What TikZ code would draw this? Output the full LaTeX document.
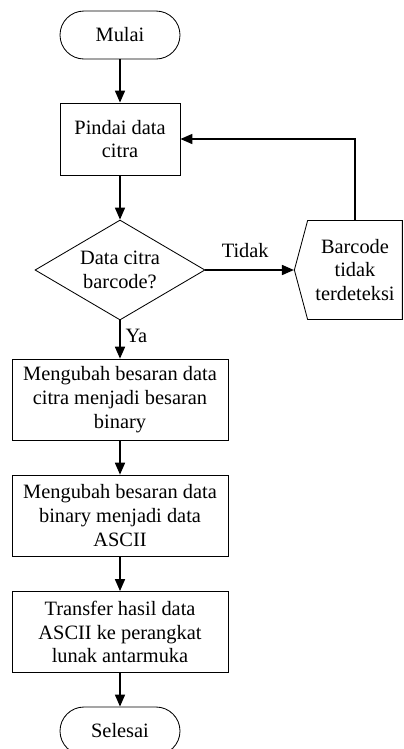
\documentclass[tikz,border=0pt]{standalone}
\usepackage{fontspec}
\setmainfont{Liberation Serif}
\usetikzlibrary{arrows.meta, positioning, calc, shapes.geometric, shapes.symbols}

\begin{document}
\begin{tikzpicture}[
    every node/.style={font=\fontsize{14.5}{16.8}\selectfont},
    terminal/.style={rectangle, draw=black, line width=0.6pt, rounded corners=0.6cm, minimum width=3cm, minimum height=1.2cm, align=center},
    process/.style={rectangle, draw=black, line width=0.6pt, minimum width=5.4cm, minimum height=2.025cm, align=center, inner sep=2pt},
    decision/.style={diamond, shape aspect=1.7, draw=black, line width=0.6pt, minimum width=4.25cm, minimum height=2.5cm, inner sep=0pt, align=center},
    display/.style={signal, signal to=west, signal from=nowhere, signal pointer angle=150, draw=black, line width=0.6pt, minimum width=2.7cm, minimum height=2.475cm, inner sep=0pt, align=center},
    label/.style={font=\fontsize{14.5}{16.8}\selectfont},
    arrow/.style={-{Triangle[length=0.3cm, width=0.25cm]}, line width=1.2pt}
]
\clip (0,0) rectangle (10.1,-18.725);

% Nodes
\node[terminal] (mulai) at (3, -0.875) {Mulai};
\node[process, minimum width=3cm, minimum height=1.8cm] (pindai) at (3, -3.475) {Pindai data\\citra};
\node[decision] (cek) at (3, -6.75) {Data citra\\barcode?};
\node[display] (gagal) at (8.875, -6.75) {Barcode\\tidak\\terdeteksi};
\node[process] (biner) at (3, -9.99) {Mengubah besaran data\\citra menjadi besaran\\binary};
\node[process] (ascii) at (3, -12.89) {Mengubah besaran data\\binary menjadi data\\ASCII};
\node[process] (kirim) at (3, -15.8) {Transfer hasil data\\ASCII ke perangkat\\lunak antarmuka};
\node[terminal] (selesai) at (3, -18.275) {Selesai};

% Paths
\draw[arrow] (mulai) -- (pindai);
\draw[arrow] (pindai) -- (cek);
\draw[arrow] (cek.east) -- node[label, above=5pt, pos=0.45] (tidak) {Tidak} (gagal.west);
\draw[arrow] (gagal.north) |- (pindai.east);
\draw[arrow] (cek.south) -- node[label, right, pos=0.4] (ya) {Ya} (biner.north);
\draw[arrow] (biner) -- (ascii);
\draw[arrow] (ascii) -- (kirim);
\draw[arrow] (kirim) -- (selesai);

\end{tikzpicture}
\end{document}
